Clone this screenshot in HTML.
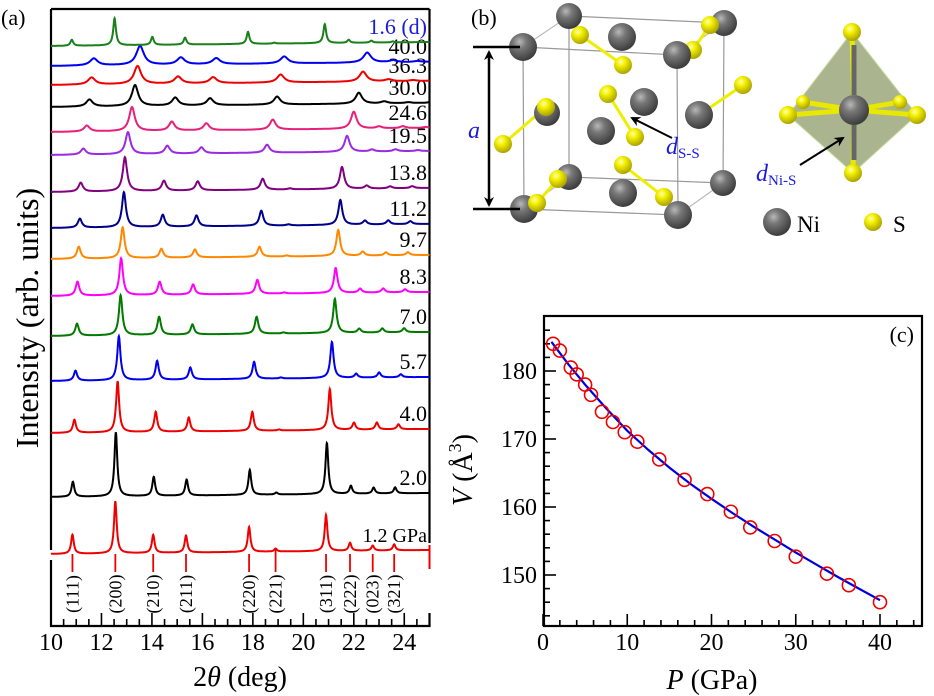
<!DOCTYPE html>
<html><head><meta charset="utf-8">
<style>
html,body{margin:0;padding:0;background:#fff;}
svg{display:block;font-family:"Liberation Serif",serif;}
</style></head>
<body>
<svg id="fig" width="934" height="696" viewBox="0 0 934 696" xmlns="http://www.w3.org/2000/svg">
<defs>
<radialGradient id="gNi" cx="0.38" cy="0.32" r="0.7"><stop offset="0" stop-color="#b8b8b8"/><stop offset="0.35" stop-color="#777"/><stop offset="1" stop-color="#3a3a3a"/></radialGradient>
<radialGradient id="gS" cx="0.38" cy="0.32" r="0.7"><stop offset="0" stop-color="#ffffb0"/><stop offset="0.35" stop-color="#f4f000"/><stop offset="1" stop-color="#a8a000"/></radialGradient>
<marker id="arr" markerWidth="10" markerHeight="10" refX="8" refY="5" orient="auto" markerUnits="userSpaceOnUse"><path d="M0,0 L10,5 L0,10 L3,5 Z" fill="#000"/></marker>
</defs>
<g id="pa"></g>
<g id="pb"></g>
<g id="pc"></g>
</svg>
<script>
// ---------- Panel (a) data ----------
const hklLabels = ["(111)","(200)","(210)","(211)","(220)","(221)","(311)","(222)","(023)","(321)"];
const refPeaks = [10.85,12.55,14.05,15.35,17.85,18.9,20.9,21.85,22.75,23.6];
const traceLabels = ["1.2 GPa","2.0","4.0","5.7","7.0","8.3","9.7","11.2","13.8","19.5","24.6","30.0","36.3","40.0","1.6 (d)"];
const tracePressures = [1.2,2.0,4.0,5.7,7.0,8.3,9.7,11.2,13.8,19.5,24.6,30.0,36.3,40.0,1.6];
const peak200 = [12.55,12.57,12.64,12.69,12.76,12.78,12.84,12.89,12.93,13.05,13.21,13.33,13.43,13.53,12.52];
const traceOffsets = [72,129,193,245,290,330,367,398,434,471,494,519,541,560,580];
const traceHeights = [
 [19,52,18,17,25,3,36,8,5,6],
 [15,64,19,16,25,2,51,8,6,6],
 [13,51,20,14,19,1,41,7,7,5],
 [10,44,19,12,17,1,36,4,5,3],
 [12,40,18,10,17,1,34,4,4,4],
 [14,37,13,10,14,1,25,4,4,3],
 [12,31,9,8,10,1,26,4,3,3],
 [9,35,12,11,15,1,25,4,4,3],
 [9,34,10,9,11,1,22,3,2,2],
 [6,22,8,6,8,0,16,2,2,1],
 [6,24,9,7,10,0,17,2,2,1],
 [7,21,8,7,8,0,11,2,1,1],
 [7,18,7,6,8,0,10,2,1,1],
 [7,19,7,6,7,0,10,2,1,1],
 [6,27,8,7,12,1,19,3,2,1]];
const traceColors = ["#ee0000","#000000","#ee0000","#0000ee","#007a00","#ff00ff","#ff8800","#00008b","#800080","#9a2be2","#e8207a","#000000","#ee0000","#0000ee","#1a801a"];
const xTicks2t = [10,12,14,16,18,20,22,24];

// ---------- Panel (c) data ----------
const pressP = [1.2,2.0,3.3,4.0,5.0,5.7,7.0,8.3,9.7,11.2,13.8,16.8,19.5,22.3,24.6,27.5,30.0,33.7,36.3,40.0];
const volV = [184.0,183.0,180.5,179.5,178.0,176.5,174.0,172.5,171.0,169.6,167.0,164.0,161.9,159.3,157.0,155.0,152.7,150.2,148.5,146.0];
const fitP = [1,3,5,7.5,10,12.5,15,17.5,20,22.5,25,27.5,30,32.5,35,37.5,40];
const fitV = [184.3,181.0,178.0,174.5,171.2,168.4,165.8,163.4,161.2,159.1,157.1,155.2,153.3,151.5,149.7,148.0,146.3];
const xTicksP = [0,10,20,30,40];
const yTicksV = [150,160,170,180];

const NS="http://www.w3.org/2000/svg";
function mk(parent,tag,attrs,text){const e=document.createElementNS(NS,tag);for(const k in attrs)e.setAttribute(k,attrs[k]);if(text!==undefined)e.textContent=text;parent.appendChild(e);return e;}

// ===== Panel (a) =====
const pa=document.getElementById('pa');
const AX0=51,AX1=429.5,AY0=9,AY1=626;
const xa=v=>AX0+(v-10)*(AX1-AX0)/15;
const ya=v=>AY1-v;
let e;
e=mk(pa,'path',{d:`M${AX0},${AY0} L${AX1},${AY0} M${AX0},${AY0} L${AX0},550 M${AX0},560 L${AX0},${AY1} L${AX1},${AY1} L${AX1},613 M${AX1},${AY0} L${AX1},543`,stroke:'#000','stroke-width':2.2,fill:'none'});


e=mk(pa,'line',{x1:AX1,y1:545,x2:AX1,y2:569,stroke:'#ee0000','stroke-width':2});


for(let v=10;v<=25.001;v+=0.5){
  const major=Math.abs(v-Math.round(v/2)*2)<1e-6;
  const len=major?13:7;
  e=mk(pa,'line',{x1:xa(v),y1:AY1,x2:xa(v),y2:AY1-len,stroke:'#000','stroke-width':1.6});
  
  
}
xTicks2t.forEach(t=>{
  e=mk(pa,'text',{x:xa(t),y:650,'font-size':24,'text-anchor':'middle'},String(t));
  
  
});
e=mk(pa,'text',{x:240,y:686,'font-size':28,'text-anchor':'middle'});
e.innerHTML='2<tspan font-style="italic">θ</tspan> (deg)';


e=mk(pa,'text',{x:0,y:0,'font-size':32,'text-anchor':'middle',transform:'translate(38,318) rotate(-90)'},'Intensity (arb. units)');


e=mk(pa,'text',{x:1,y:25,'font-size':22},'(a)');


refPeaks.forEach((p,i)=>{
  e=mk(pa,'line',{x1:xa(p),y1:ya(traceOffsets[0]+(i===5?6:0)),x2:xa(p),y2:572,stroke:'#ee0000','stroke-width':1.8});
  
  
  e=mk(pa,'text',{x:0,y:0,'font-size':18,'text-anchor':'middle',transform:`translate(${xa(p)+6},594) rotate(-90)`},hklLabels[i]);
  
  
});
traceLabels.forEach((lab,t)=>{
  const s=peak200[t]/refPeaks[1];
  const w=0.06+0.003*tracePressures[t];
  let d='';
  for(let x=10;x<=25.0001;x+=0.01){
    let v=traceOffsets[t]+4*(x-10)/15;
    refPeaks.forEach((p,i)=>{const dx=(x-p*s)/w;v+=traceHeights[t][i]/(1+dx*dx);});
    d+=(d?'L':'M')+xa(x).toFixed(1)+','+ya(v).toFixed(1);
  }
  e=mk(pa,'path',{d:d,stroke:traceColors[t],'stroke-width':2,fill:'none'});
  
  
  const ly=ya(traceOffsets[t]+4)-8;
  e=mk(pa,'text',{x:427,y:ly,'font-size':t===0?20:22,'text-anchor':'end',fill:t===14?'#1a1add':'#000'},lab);
  
  
});

// ===== Panel (c) =====
const pc=document.getElementById('pc');
const CX0=544,CX1=922,CY0=316,CY1=626;
const xc=v=>543+v*(880-543)/40;
const yc=v=>371+(180-v)*(575-371)/30;
e=mk(pc,'rect',{x:CX0,y:CY0,width:CX1-CX0,height:CY1-CY0,fill:'none',stroke:'#000','stroke-width':2.2});


for(let v=0;v<=44;v+=2){
  const len=(v%10===0)?12:6;
  e=mk(pc,'line',{x1:xc(v),y1:CY1,x2:xc(v),y2:CY1-len,stroke:'#000','stroke-width':1.6});
  
  
}
for(let v=144;v<=186;v+=2){
  const len=(v%10===0)?12:6;
  e=mk(pc,'line',{x1:CX0,y1:yc(v),x2:CX0+len,y2:yc(v),stroke:'#000','stroke-width':1.6});
  
  
}
xTicksP.forEach(t=>{
  e=mk(pc,'text',{x:xc(t),y:650,'font-size':24,'text-anchor':'middle'},String(t));
  
  
});
yTicksV.forEach(t=>{
  e=mk(pc,'text',{x:537,y:yc(t)+8,'font-size':24,'text-anchor':'end'},String(t));
  
  
});
e=mk(pc,'text',{x:712,y:689,'font-size':28,'text-anchor':'middle'});
e.innerHTML='<tspan font-style="italic">P</tspan> (GPa)';


e=mk(pc,'text',{x:0,y:0,'font-size':28,'text-anchor':'middle',transform:'translate(472,470) rotate(-90)'});
e.innerHTML='<tspan font-style="italic">V</tspan> (Å<tspan font-size="18" dy="-11">3</tspan><tspan dy="11">)</tspan>';


e=mk(pc,'text',{x:914,y:342,'font-size':22,'text-anchor':'end'},'(c)');


let fd='';
fitP.forEach((p,i)=>{fd+=(i?'L':'M')+xc(p).toFixed(1)+','+yc(fitV[i]).toFixed(1);});
e=mk(pc,'path',{d:fd,stroke:'#0000dd','stroke-width':2.2,fill:'none'});


pressP.forEach((p,i)=>{
  e=mk(pc,'circle',{cx:xc(p),cy:yc(volV[i]),r:6.5,fill:'none',stroke:'#ee0000','stroke-width':1.6});
  
  
});

// ===== Panel (b) =====
const pb=document.getElementById('pb');
function ln(x1,y1,x2,y2,c,w,name){const l=mk(pb,'line',{x1,y1,x2,y2,stroke:c,'stroke-width':w});return l;}
function ball(x,y,r,ni){const c=mk(pb,'circle',{cx:x,cy:y,r:r,fill:ni?'url(#gNi)':'url(#gS)'});}
const back=[[569,16],[724,23],[723,183],[569,177]],front=[[523,47],[677,55],[678,215],[524,209]];
for(let i=0;i<4;i++){
  ln(back[i][0],back[i][1],back[(i+1)%4][0],back[(i+1)%4][1],'#999',1.2,'cell-edge');
  ln(front[i][0],front[i][1],front[(i+1)%4][0],front[(i+1)%4][1],'#999',1.2,'cell-edge');
  ln(back[i][0],back[i][1],front[i][0],front[i][1],'#bbb',1.2,'cell-edge');
}
e=mk(pb,'polygon',{points:'852,32 917,115 853,173 788,115',fill:'#8e9c6a','fill-opacity':0.75,stroke:'#c8e0a0','stroke-width':1});


[[580,35,623,65],[710,25,693,50],[608,94,635,137],[743,85,699,115],[546,107,503,144],[558,179,537,203],[623,165,664,197]].forEach(b=>ln(b[0],b[1],b[2],b[3],'#eeee00',3,'s-s-bond'));
[[852,32],[853,173],[788,115],[803,102],[900,102],[917,115]].forEach(s=>{ln(854,110,s[0],s[1],'#e8e800',5,'ni-s-bond');});
ln(854,45,854,95,'#666',5,'ni-s-bond');ln(854,125,854,160,'#666',5,'ni-s-bond');
[[569,16,13],[724,23,13],[622,37,14],[601,131,14],[644,102,14],[623,193,14],[569,177,13],[723,183,13],[547,113,13],[699,115,14]].forEach(a=>ball(a[0],a[1],a[2],true));
[[580,35],[623,65],[710,25],[693,50],[608,94],[635,137],[743,85],[546,107],[503,144],[558,179],[537,203],[623,165],[664,197]].forEach(a=>ball(a[0],a[1],9,false));
[[523,47,14],[677,55,14],[524,209,14],[678,215,14]].forEach(a=>ball(a[0],a[1],a[2],true));
ball(537,203,9,false);
[[803,102],[900,102]].forEach(a=>ball(a[0],a[1],7,false));
ball(854,110,15,true);
[[852,32],[853,173],[788,115],[917,115]].forEach(a=>ball(a[0],a[1],9,false));
ln(473,47,520,47,'#000',2.5,'dimension-bar');ln(473,209,520,209,'#000',2.5,'dimension-bar');
e=mk(pb,'line',{x1:489,y1:128,x2:489,y2:52,stroke:'#000','stroke-width':2.5,'marker-end':'url(#arr)'});
e=mk(pb,'line',{x1:489,y1:128,x2:489,y2:205,stroke:'#000','stroke-width':2.5,'marker-end':'url(#arr)'});
e=mk(pb,'text',{x:468,y:138,'font-size':24,'font-style':'italic',fill:'#1a1add'},'a');
e=mk(pb,'text',{x:471,y:25,'font-size':22},'(b)');
e=mk(pb,'line',{x1:672,y1:138,x2:632,y2:118,stroke:'#000','stroke-width':2,'marker-end':'url(#arr)'});
e=mk(pb,'text',{x:666,y:154,'font-size':24,fill:'#1a1add'});e.innerHTML='<tspan font-style="italic">d</tspan><tspan font-size="15" dy="4">S-S</tspan>';
e=mk(pb,'line',{x1:800,y1:165,x2:843,y2:138,stroke:'#000','stroke-width':2,'marker-end':'url(#arr)'});
e=mk(pb,'text',{x:756,y:181,'font-size':24,fill:'#1a1add'});e.innerHTML='<tspan font-style="italic">d</tspan><tspan font-size="15" dy="4">Ni-S</tspan>';
ball(777,222,14,true);ball(873,222,9,false);
e=mk(pb,'text',{x:797,y:232,'font-size':23},'Ni');
e=mk(pb,'text',{x:893,y:232,'font-size':23},'S');
</script>
</body></html>
